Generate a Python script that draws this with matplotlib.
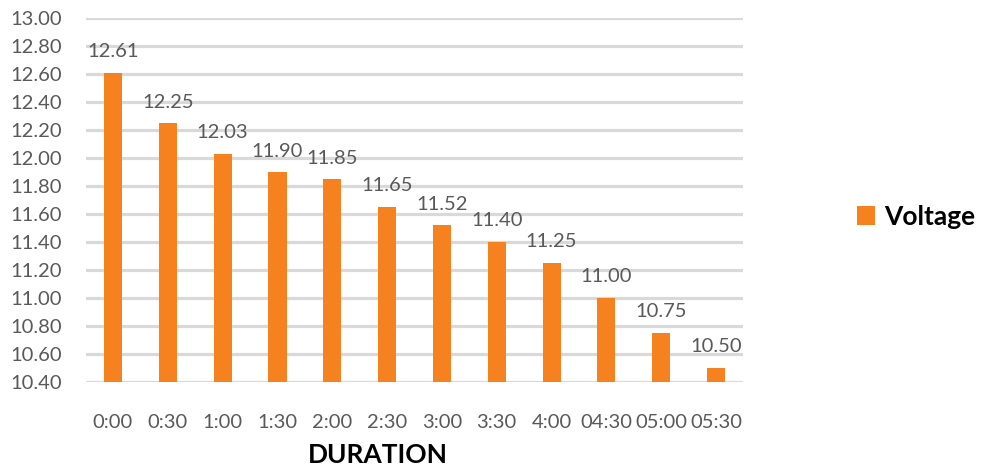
import matplotlib
matplotlib.use("Agg")
import matplotlib.pyplot as plt
import numpy as np

categories = ["0:00", "0:30", "1:00", "1:30", "2:00", "2:30", "3:00", "3:30", "4:00", "04:30", "05:00", "05:30"]
voltage = [12.61, 12.25, 12.03, 11.90, 11.85, 11.65, 11.52, 11.40, 11.25, 11.00, 10.75, 10.50]
yticks = [10.40, 10.60, 10.80, 11.00, 11.20, 11.40, 11.60, 11.80, 12.00, 12.20, 12.40, 12.60, 12.80, 13.00]

bar_color = "#F5821F"
grid_color = "#D9D9D9"
text_color = "#595959"
label_font = ["Lato", "DejaVu Sans"]
title_font = ["Lato", "DejaVu Sans"]

fig = plt.figure(figsize=(9.86, 4.68), dpi=100)
ax = fig.add_axes([0.0868, 0.1838, 0.754 - 0.0868, 0.9615 - 0.1838])

x = np.arange(len(categories))
for yt in yticks:
    ax.axhline(yt, color=grid_color, lw=2.3, zorder=1)
bars = ax.bar(x, voltage, width=0.33, color=bar_color, zorder=2, label="Voltage")

for xi, v in zip(x, voltage):
    ax.annotate(f"{v:.2f}", (xi, v), xytext=(0, 9), textcoords="offset points",
                ha="center", va="bottom", fontsize=14.5, color=text_color, family=label_font)

ax.set_xlim(-0.5, len(categories) - 0.5)
ax.set_ylim(10.40, 13.00)
ax.set_yticks(yticks)
ax.set_yticklabels([f"{t:.2f}" for t in yticks], family=label_font, fontsize=14.5, color=text_color)
ax.set_xticks(x)
ax.set_xticklabels(categories, family=label_font, fontsize=14.5, color=text_color)
ax.tick_params(axis="y", length=0, pad=17)
ax.tick_params(axis="x", length=0, pad=23)
for s in ax.spines.values():
    s.set_visible(False)

fig.text(378 / 986, 1 - 455 / 468, "DURATION", family=title_font, fontweight="bold",
         fontsize=19, color="black", ha="center", va="center")

leg = fig.legend(handles=[bars], labels=["Voltage"], loc="center left",
                 bbox_to_anchor=(0.845, 0.537), frameon=False, handlelength=0.7, handleheight=0.7,
                 handletextpad=0.35, prop={"family": title_font, "weight": "bold", "size": 19})

fig.savefig("out.png", dpi=100)
